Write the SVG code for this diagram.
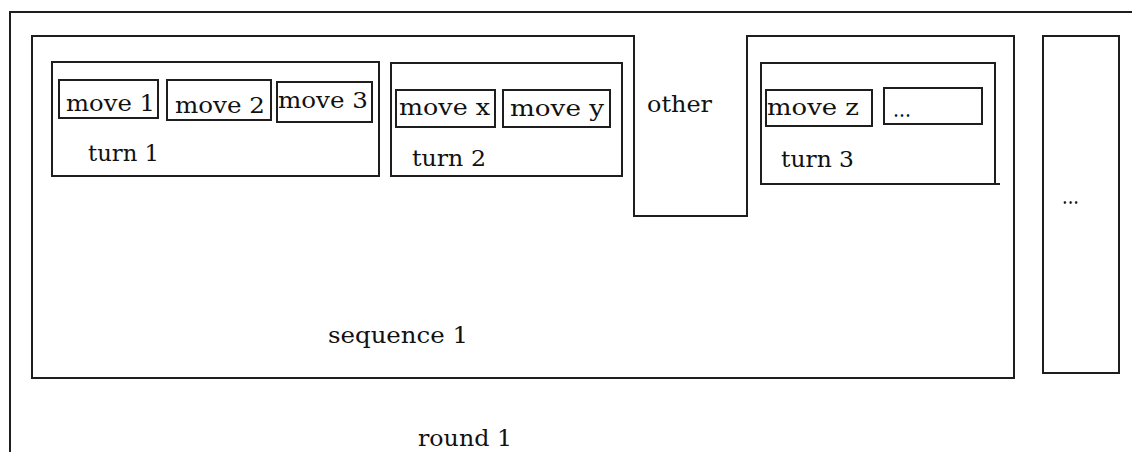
<svg xmlns="http://www.w3.org/2000/svg" width="1132" height="452" viewBox="0 0 1132 452">
  <style>
    .box { fill: none; stroke: #1e1e1e; stroke-width: 2; }
    .lbl { font-family: "DejaVu Serif", "Liberation Serif", serif; font-size: 23px; fill: #111; }
  </style>
  <rect width="1132" height="452" fill="#ffffff"/>

  <!-- round: open frame running past the right and bottom edges -->
  <g id="round1">
    <path class="box" d="M1140,12 H10 V460"/>
    <text class="lbl" x="418" y="446" textLength="94" lengthAdjust="spacingAndGlyphs">round 1</text>
  </g>

  <!-- sequence with a notch for the "other" slot -->
  <g id="sequence1">
    <path class="box" d="M32,36 H634 V216 H747 V36 H1014 V378 H32 Z"/>
    <text class="lbl" x="328" y="343" textLength="140" lengthAdjust="spacingAndGlyphs">sequence 1</text>
  </g>

  <g id="other">
    <text class="lbl" x="647" y="112" textLength="65" lengthAdjust="spacingAndGlyphs">other</text>
  </g>

  <!-- further sequences -->
  <g id="sequence-more">
    <rect class="box" x="1043" y="36" width="76" height="337"/>
    <text class="lbl" x="1062" y="204" textLength="17" lengthAdjust="spacingAndGlyphs">...</text>
  </g>

  <!-- turn 1 -->
  <g id="turn1">
    <rect class="box" x="52" y="62" width="327" height="114"/>
    <text class="lbl" x="88" y="161" textLength="71" lengthAdjust="spacingAndGlyphs">turn 1</text>
  </g>
  <g id="move1">
    <rect class="box" x="59" y="80" width="99" height="38"/>
    <text class="lbl" x="66" y="111" textLength="89" lengthAdjust="spacingAndGlyphs">move 1</text>
  </g>
  <g id="move2">
    <rect class="box" x="167" y="80" width="104" height="40"/>
    <text class="lbl" x="175" y="113" textLength="90" lengthAdjust="spacingAndGlyphs">move 2</text>
  </g>
  <g id="move3">
    <rect class="box" x="277" y="82" width="95" height="40"/>
    <text class="lbl" x="278" y="108" textLength="90" lengthAdjust="spacingAndGlyphs">move 3</text>
  </g>

  <!-- turn 2 -->
  <g id="turn2">
    <rect class="box" x="391" y="63" width="231" height="113"/>
    <text class="lbl" x="412" y="166" textLength="74" lengthAdjust="spacingAndGlyphs">turn 2</text>
  </g>
  <g id="movex">
    <rect class="box" x="396" y="90" width="99" height="37"/>
    <text class="lbl" x="399" y="115" textLength="91" lengthAdjust="spacingAndGlyphs">move x</text>
  </g>
  <g id="movey">
    <rect class="box" x="503" y="90" width="107" height="37"/>
    <text class="lbl" x="510" y="116" textLength="94" lengthAdjust="spacingAndGlyphs">move y</text>
  </g>

  <!-- turn 3 (bottom edge overshoots slightly) -->
  <g id="turn3">
    <path class="box" d="M995,184 H761 V63 H995 V184 H1000"/>
    <text class="lbl" x="781" y="167" textLength="73" lengthAdjust="spacingAndGlyphs">turn 3</text>
  </g>
  <g id="movez">
    <rect class="box" x="766" y="90" width="106" height="36"/>
    <text class="lbl" x="767" y="115" textLength="92" lengthAdjust="spacingAndGlyphs">move z</text>
  </g>
  <g id="move-more">
    <rect class="box" x="884" y="88" width="98" height="36"/>
    <text class="lbl" x="893" y="117" textLength="18" lengthAdjust="spacingAndGlyphs">...</text>
  </g>

  <g id="connectors"></g>
</svg>
